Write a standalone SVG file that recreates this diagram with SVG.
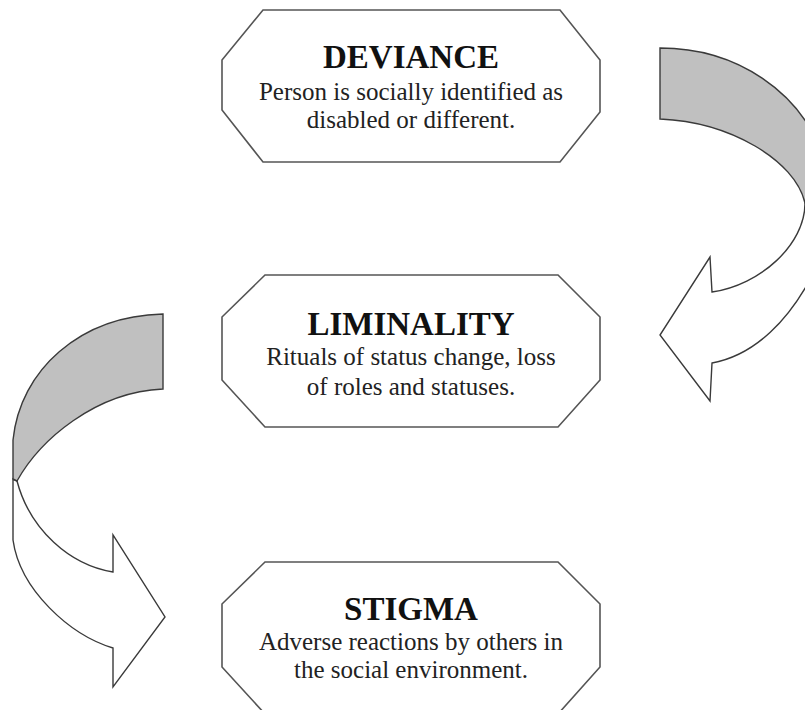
<svg xmlns="http://www.w3.org/2000/svg" width="805" height="710" viewBox="0 0 805 710">
<style>
.box{fill:#fff;stroke:#555;stroke-width:1.6;stroke-linejoin:miter}
.t{font-family:"Liberation Serif","Times New Roman",serif;font-weight:bold;font-size:33px;fill:#111;text-anchor:middle}
.b{font-family:"Liberation Serif","Times New Roman",serif;font-size:25px;fill:#222;text-anchor:middle}
.gr{fill:#c0c0c0;stroke:#3a3a3a;stroke-width:1.4;stroke-linejoin:miter}
.wh{fill:#fff;stroke:#3a3a3a;stroke-width:1.4;stroke-linejoin:miter}
</style>
<rect width="805" height="710" fill="#fff"/>
<g id="connectors">
<g id="arrow-right">
<path class="wh" d="M805,203 C805,245 760,285 712,292 L710,257 L660,335 L710,401 L712,363 C755,355 790,320 815,270 L820,200 Z"/>
<path class="gr" d="M660,48 C740,48 800,95 820,150 L820,203 L805,203 C795,160 730,122 660,119 Z"/>
</g>
<g id="arrow-left">
<path class="wh" d="M17,481 C30,530 70,565 113,572 L113,535 L165,617 L113,687 L113,648 C70,635 20,590 13,540 L13,479 Z"/>
<path class="gr" d="M163,314 C80,316 20,370 13,440 L13,479 L17,481 C40,440 95,392 163,389 Z"/>
</g>
</g>
<g id="deviance">
<polygon class="box" points="263,10 560,10 600,60 600,112 560,162 263,162 222,110 222,60"/>
<text class="t" x="411" y="68">DEVIANCE</text>
<text class="b" x="411" y="100">Person is socially identified as</text>
<text class="b" x="411" y="128">disabled or different.</text>
</g>
<g id="liminality">
<polygon class="box" points="265,275 558,275 600,317 600,380 558,427 265,427 222,380 222,317"/>
<text class="t" x="411" y="335">LIMINALITY</text>
<text class="b" x="411" y="365">Rituals of status change, loss</text>
<text class="b" x="411" y="395">of roles and statuses.</text>
</g>
<g id="stigma">
<polygon class="box" points="265,562 558,562 600,604 600,667 558,714 265,714 222,667 222,604"/>
<text class="t" x="411" y="620">STIGMA</text>
<text class="b" x="411" y="650">Adverse reactions by others in</text>
<text class="b" x="411" y="678">the social environment.</text>
</g>
</svg>
